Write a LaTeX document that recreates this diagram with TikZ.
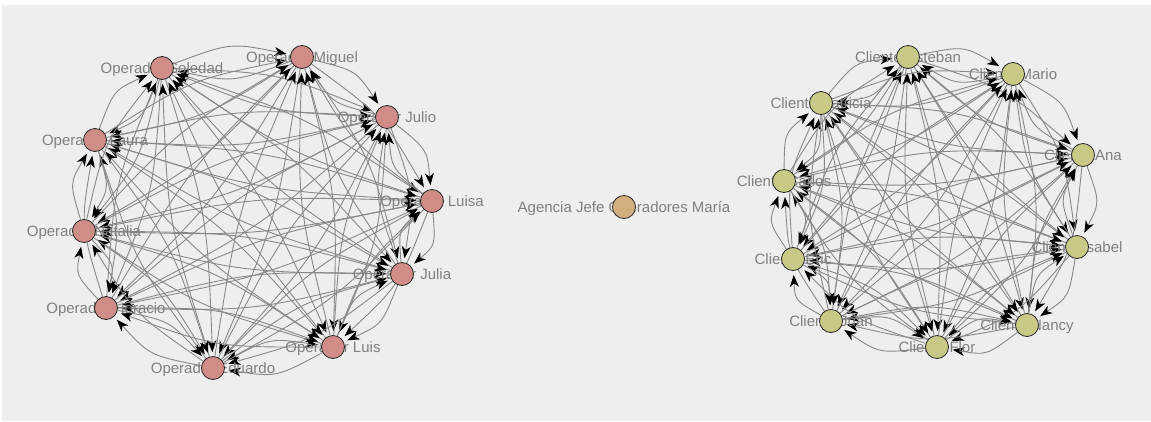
\documentclass[tikz,border=0pt]{standalone}
\usepackage{fontspec}
\setmainfont{Liberation Sans}
\usetikzlibrary{calc,arrows.meta}
\pgfdeclarelayer{bg}
\pgfdeclarelayer{edgelayer}
\pgfdeclarelayer{labellayer}
\pgfsetlayers{bg,edgelayer,labellayer,main}
\definecolor{bgc}{HTML}{EEEEEE}
\definecolor{edgec}{HTML}{888888}
\definecolor{labc}{HTML}{808080}
\definecolor{opc}{HTML}{D08C87}
\definecolor{clc}{HTML}{C9C986}
\definecolor{agc}{HTML}{D2AE80}
\begin{document}
\begin{tikzpicture}[x=1pt,y=-1pt,
  vtx/.style={circle,draw=black!85,line width=0.8pt,minimum size=23pt,inner sep=0pt},
  opnode/.style={vtx,fill=opc},
  clnode/.style={vtx,fill=clc},
  agnode/.style={vtx,fill=agc},
  lab/.style={text=labc,font=\fontsize{15}{18}\selectfont,inner sep=0pt,anchor=base},
  edge/.style={draw=edgec,line width=0.9pt,-{Stealth[length=12pt,width=9pt,black,inset=3.5pt]},shorten >=4pt}]
\useasboundingbox (0,0) rectangle (1151,421);
\begin{pgfonlayer}{bg}
\fill[bgc] (2,5) rectangle (1151,421);
\end{pgfonlayer}
% operators
\foreach \n/\x/\y/\t in {o0/162/68/Soledad,o1/302/57/Miguel,o2/387/117/Julio,o3/432/201/Luisa,o4/402/274/Julia,o5/333/347/Luis,o6/213/368/Eduardo,o7/106/308/Horacio,o8/84/231/Natalia,o9/95/140/Laura}{
  \node[opnode] (\n) at (\x,\y) {};
  \begin{pgfonlayer}{labellayer}
  \node[lab] (L\n) at (\x,\y+5) {Operador \t};
  \end{pgfonlayer}
}
% clients
\foreach \n/\x/\y/\t in {c0/908/57/Esteban,c1/1013/74/Mario,c2/1083/155/Ana,c3/1077/247/Isabel,c4/1027/325/Nancy,c5/937/347/Flor,c6/831/321/Juan,c7/793/259/Eric,c8/784/181/Carlos,c9/821/103/Patricia}{
  \node[clnode] (\n) at (\x,\y) {};
  \begin{pgfonlayer}{labellayer}
  \node[lab] (L\n) at (\x,\y+5) {Cliente \t};
  \end{pgfonlayer}
}
% agency
\node[agnode] (a) at (624,207) {};
\begin{pgfonlayer}{labellayer}
\node[lab] (La) at (624,212) {Agencia Jefe Operadores María};
\end{pgfonlayer}
% edges
\begin{pgfonlayer}{edgelayer}
\foreach \i in {0,...,9}{\foreach \j in {0,...,9}{\ifnum\i=\j\relax\else
  \draw[edge] (o\i) .. controls ($(o\i)!0.5!(o\j)!20pt!90:(o\j)$) .. (o\j);
  \draw[edge] (c\i) .. controls ($(c\i)!0.5!(c\j)!20pt!90:(c\j)$) .. (c\j);
\fi}}
\end{pgfonlayer}
\end{tikzpicture}
\end{document}
